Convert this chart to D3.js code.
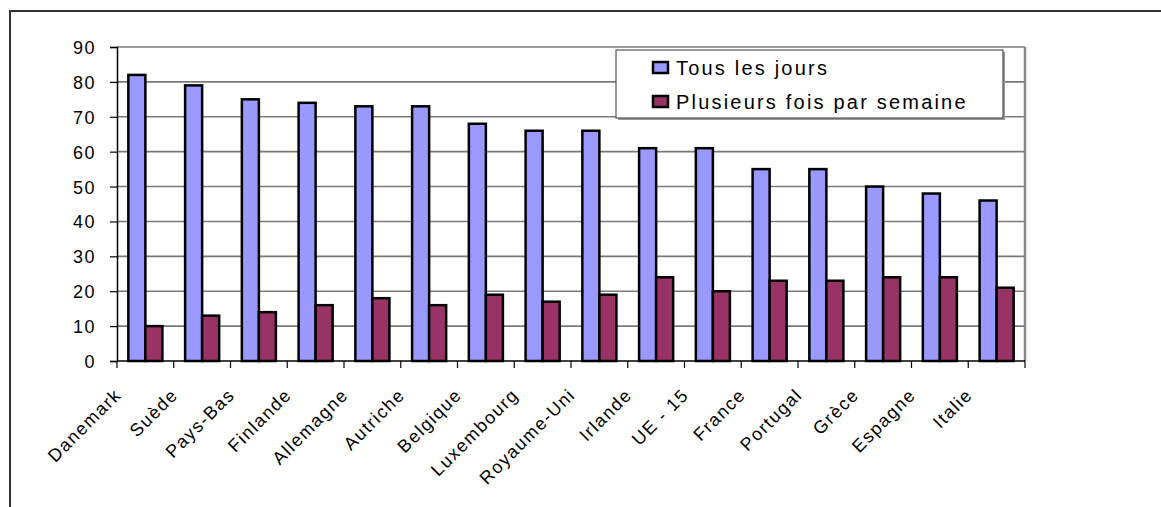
<!DOCTYPE html>
<html lang="fr">
	<head>
		<meta charset="utf-8">
		<title>D3: Fréquence par pays</title>
		<script type="text/javascript" src="https://cdn.jsdelivr.net/npm/d3@7"></script>
		<style type="text/css">
			body { margin: 0; background: #fff; }
			text { font-family: Arial, "Liberation Sans", sans-serif; fill: #000; }
		</style>
	</head>
	<body>
		<script type="text/javascript">

			//Data
			var pays = ["Danemark", "Suède", "Pays-Bas", "Finlande", "Allemagne", "Autriche", "Belgique", "Luxembourg",
						"Royaume-Uni", "Irlande", "UE - 15", "France", "Portugal", "Grèce", "Espagne", "Italie"];
			var tousLesJours = [82, 79, 75, 74, 73, 73, 68, 66, 66, 61, 61, 55, 55, 50, 48, 46];
			var plusieursFois = [10, 13, 14, 16, 18, 16, 19, 17, 19, 24, 20, 23, 23, 24, 24, 21];
			var series = ["Tous les jours", "Plusieurs fois par semaine"];
			var yTicks = [0, 10, 20, 30, 40, 50, 60, 70, 80, 90];

			var couleurs = ["#9999ff", "#993366"];

			//Width and height
			var w = 1161;
			var h = 507;
			var plot = { left: 117, right: 1025, top: 47, bottom: 361 };

			var svg = d3.select("body")
						.append("svg")
						.attr("width", w)
						.attr("height", h);

			//Outer frame (only top and left edges are visible)
			svg.append("path")
			   .attr("d", "M10," + (h + 5) + "V11H" + (w + 5))
			   .attr("fill", "none")
			   .attr("stroke", "#333")
			   .attr("stroke-width", 2);

			//Scales
			var x = d3.scaleBand()
					  .domain(pays)
					  .range([plot.left, plot.right])
					  .paddingInner(0.4)
					  .paddingOuter(0.2);

			var xSub = d3.scaleBand()
						 .domain(series)
						 .range([0, x.bandwidth()]);

			var y = d3.scaleLinear()
					  .domain([0, 90])
					  .range([plot.bottom, plot.top]);

			//Gridlines
			svg.append("g")
			   .selectAll("line")
			   .data(yTicks.slice(1))
			   .enter()
			   .append("line")
			   .attr("x1", plot.left)
			   .attr("x2", plot.right)
			   .attr("y1", function(d) { return y(d); })
			   .attr("y2", function(d) { return y(d); })
			   .attr("stroke", "#7a7a7a")
			   .attr("stroke-width", 1.6);

			//Plot area right border
			svg.append("line")
			   .attr("x1", plot.right)
			   .attr("x2", plot.right)
			   .attr("y1", plot.top)
			   .attr("y2", plot.bottom)
			   .attr("stroke", "#888")
			   .attr("stroke-width", 2.5);

			//Bars
			var rows = pays.map(function(p, i) {
				return [
					{ pays: p, serie: series[0], v: tousLesJours[i], c: couleurs[0] },
					{ pays: p, serie: series[1], v: plusieursFois[i], c: couleurs[1] }
				];
			});

			svg.append("g")
			   .selectAll("g")
			   .data(rows)
			   .enter()
			   .append("g")
			   .attr("transform", function(d) { return "translate(" + x(d[0].pays) + ",0)"; })
			   .selectAll("rect")
			   .data(function(d) { return d; })
			   .enter()
			   .append("rect")
			   .attr("x", function(d) { return xSub(d.serie); })
			   .attr("y", function(d) { return y(d.v); })
			   .attr("width", xSub.bandwidth())
			   .attr("height", function(d) { return y(0) - y(d.v); })
			   .attr("fill", function(d) { return d.c; })
			   .attr("stroke", "#000")
			   .attr("stroke-width", 2.5);

			//Y axis
			var yAxis = d3.axisLeft(y)
						  .tickValues(yTicks)
						  .tickSize(7)
						  .tickPadding(14);

			var gy = svg.append("g")
						.attr("transform", "translate(" + plot.left + ",0)")
						.call(yAxis);
			gy.select(".domain").attr("stroke", "#000").attr("stroke-width", 1.5);
			gy.selectAll(".tick line").attr("stroke", "#000").attr("stroke-width", 1.2);
			gy.selectAll(".tick text")
			  .attr("dy", "0.36em")
			  .style("font-size", "18px")
			  .style("font-family", "Arial, 'Liberation Sans', sans-serif")
			  .style("letter-spacing", "1.5px")
			  .style("fill", "#000");

			//X axis (ticks between categories)
			var gx = svg.append("g")
						.attr("transform", "translate(0," + plot.bottom + ")");

			gx.append("line")
			  .attr("x1", plot.left)
			  .attr("x2", plot.right)
			  .attr("stroke", "#000")
			  .attr("stroke-width", 1.5);

			var bornes = pays.map(function(p) { return x(p) - x.step() * 0.2; });
			bornes.push(plot.right);

			gx.selectAll("line.tick")
			  .data(bornes)
			  .enter()
			  .append("line")
			  .attr("class", "tick")
			  .attr("x1", function(d) { return d; })
			  .attr("x2", function(d) { return d; })
			  .attr("y1", 0)
			  .attr("y2", 7)
			  .attr("stroke", "#000")
			  .attr("stroke-width", 1.2);

			gx.selectAll("text")
			  .data(pays)
			  .enter()
			  .append("text")
			  .attr("text-anchor", "end")
			  .attr("transform", function(d) {
				  var cx = x(d) + x.bandwidth() / 2 - 23;
				  return "translate(" + cx + ",35) rotate(-45)";
			  })
			  .style("font-size", "18px")
			  .style("letter-spacing", "1.5px")
			  .text(function(d) { return d; });

			//Legend
			var legend = svg.append("g");

			legend.append("rect")
				  .attr("x", 618)
				  .attr("y", 52)
				  .attr("width", 387)
				  .attr("height", 68)
				  .attr("fill", "#999");

			legend.append("rect")
				  .attr("x", 616)
				  .attr("y", 50)
				  .attr("width", 387)
				  .attr("height", 68)
				  .attr("fill", "#fff")
				  .attr("stroke", "#555")
				  .attr("stroke-width", 1.2);

			var items = legend.selectAll("g.item")
							  .data(series)
							  .enter()
							  .append("g")
							  .attr("class", "item")
							  .attr("transform", function(d, i) { return "translate(653," + (62 + i * 34) + ")"; });

			items.append("rect")
				 .attr("width", 15)
				 .attr("height", 11)
				 .attr("fill", function(d, i) { return couleurs[i]; })
				 .attr("stroke", "#000")
				 .attr("stroke-width", 2.5);

			items.append("text")
				 .attr("x", 23)
				 .attr("y", 13)
				 .style("font-size", "20px")
				 .style("letter-spacing", "2.2px")
				 .text(function(d) { return d; });

		</script>
	</body>
</html>
